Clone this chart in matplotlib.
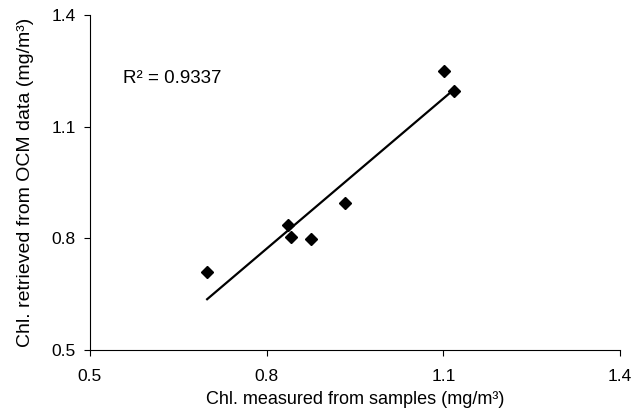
import numpy as np
import matplotlib.pyplot as plt

plt.rcParams['font.family'] = ['Liberation Sans', 'DejaVu Sans']

# values
measured = [0.699, 0.837, 0.841, 0.875, 0.933, 1.101, 1.118]
retrieved = [0.709, 0.835, 0.803, 0.797, 0.896, 1.250, 1.197]
ticks = [0.5, 0.8, 1.1, 1.4]
r2_text = 'R² = 0.9337'

fig = plt.figure(figsize=(6.42, 4.2), dpi=100)
ax = fig.add_axes([0.140, 0.167, 0.826, 0.797])

ax.plot(measured, retrieved, 'D', color='black', markersize=6)

# linear trendline over the range of the data
slope, intercept = np.polyfit(measured, retrieved, 1)
xs = np.array([min(measured), max(measured)])
ax.plot(xs, slope * xs + intercept, color='black', linewidth=1.6)

ax.text(0.556, 1.229, r2_text, fontsize=13.5, va='center', ha='left')

ax.set_xlim(0.5, 1.4)
ax.set_ylim(0.5, 1.4)
ax.set_xticks(ticks)
ax.set_yticks(ticks)
ax.set_xticklabels([f'{t:g}' for t in ticks], fontsize=12.5)
ax.set_yticklabels([f'{t:g}' for t in ticks], fontsize=12.5)
ax.tick_params(direction='out', length=4, width=0.8, color='black')
ax.tick_params(axis='x', pad=9.5)
ax.tick_params(axis='y', pad=6)
ax.spines['top'].set_visible(False)
ax.spines['right'].set_visible(False)
ax.set_xlabel('Chl. measured from samples (mg/m³)', fontsize=13, labelpad=5)
ax.set_ylabel('Chl. retrieved from OCM data (mg/m³)', fontsize=14, labelpad=13)

fig.savefig('out.png', dpi=100)
